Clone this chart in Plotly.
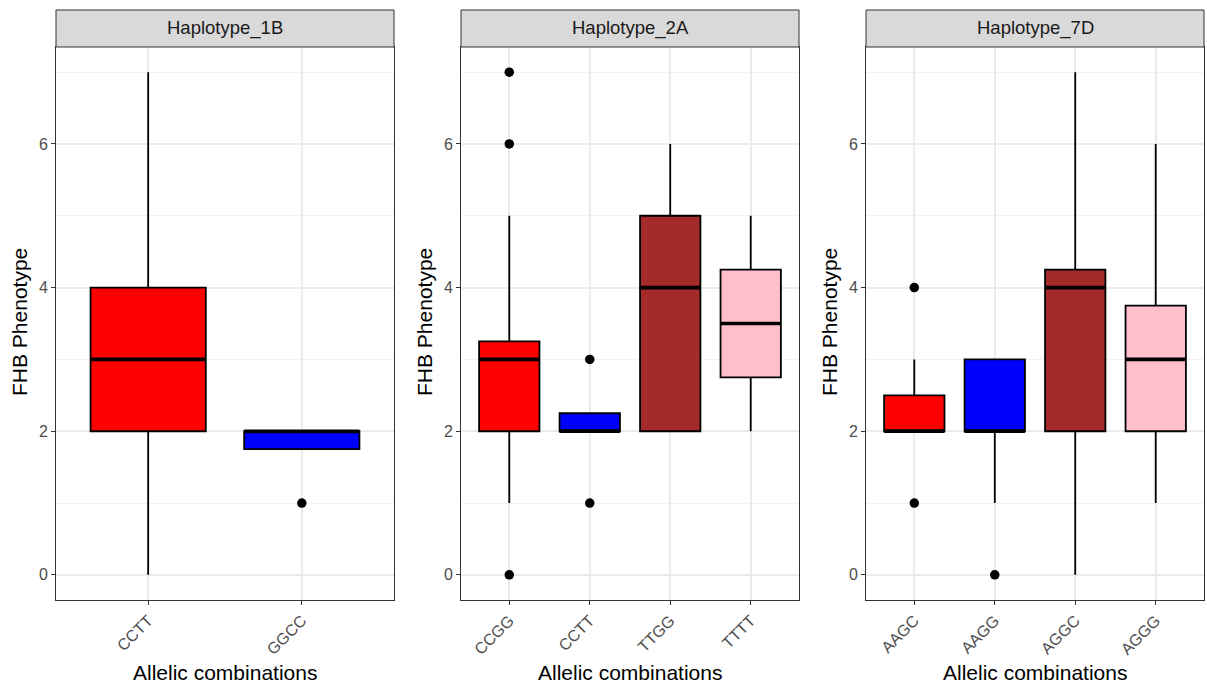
import plotly.graph_objects as go

W, H = 1207, 684

# ---------------- data ----------------
panels = ["Haplotype_1B", "Haplotype_2A", "Haplotype_7D"]

cats_1B = ["CCTT", "GGCC"]
lower_1B = [0, 1.75]
q1_1B = [2, 1.75]
med_1B = [3, 2]
q3_1B = [4, 2]
upper_1B = [7, 2]
out_1B = [[], [1]]
col_1B = ["#FF0000", "#0000FF"]

cats_2A = ["CCGG", "CCTT", "TTGG", "TTTT"]
lower_2A = [1, 2, 2, 2]
q1_2A = [2, 2, 2, 2.75]
med_2A = [3, 2, 4, 3.5]
q3_2A = [3.25, 2.25, 5, 4.25]
upper_2A = [5, 2.25, 6, 5]
out_2A = [[0, 6, 7], [1, 3], [], []]
col_2A = ["#FF0000", "#0000FF", "#A52A2A", "#FFC0CB"]

cats_7D = ["AAGC", "AAGG", "AGGC", "AGGG"]
lower_7D = [2, 1, 0, 1]
q1_7D = [2, 2, 2, 2]
med_7D = [2, 2, 4, 3]
q3_7D = [2.5, 3, 4.25, 3.75]
upper_7D = [3, 3, 7, 6]
out_7D = [[1, 4], [0], [], []]
col_7D = ["#FF0000", "#0000FF", "#A52A2A", "#FFC0CB"]

y_ticks = [0, 2, 4, 6]
x_title = "Allelic combinations"
y_title = "FHB Phenotype"

# ---------------- layout geometry ----------------
panel_px = [(56, 394), (461, 799), (866, 1204)]
plot_top_px, plot_bot_px = 47, 600
strip_top_px = 10
ydom = [1 - plot_bot_px / H, 1 - plot_top_px / H]
BOX_W = 0.75
FONT = "Liberation Sans, Arial, Helvetica, sans-serif"

data_sets = [
    (cats_1B, lower_1B, q1_1B, med_1B, q3_1B, upper_1B, out_1B, col_1B),
    (cats_2A, lower_2A, q1_2A, med_2A, q3_2A, upper_2A, out_2A, col_2A),
    (cats_7D, lower_7D, q1_7D, med_7D, q3_7D, upper_7D, out_7D, col_7D),
]

fig = go.Figure()
shapes = []
annotations = []

for p, (name, ds, (x0, x1)) in enumerate(zip(panels, data_sets, panel_px)):
    cats, lo, q1, md, q3, up, outs, cols = ds
    sfx = "" if p == 0 else str(p + 1)
    xa, ya = "x" + sfx, "y" + sfx
    pos = list(range(1, len(cats) + 1))
    for i, c in enumerate(cats):
        fig.add_trace(go.Box(
            x=[pos[i]], q1=[q1[i]], median=[md[i]], q3=[q3[i]],
            lowerfence=[lo[i]], upperfence=[up[i]],
            width=BOX_W, whiskerwidth=0, boxpoints=False,
            fillcolor=cols[i], line=dict(color="black", width=1.8),
            xaxis=xa, yaxis=ya, showlegend=False, hoverinfo="skip",
        ))
        # thick median line
        fig.add_trace(go.Scatter(
            x=[pos[i] - BOX_W / 2, pos[i] + BOX_W / 2], y=[md[i], md[i]],
            mode="lines", line=dict(color="black", width=3.6),
            xaxis=xa, yaxis=ya, showlegend=False, hoverinfo="skip",
        ))
        if outs[i]:
            fig.add_trace(go.Scatter(
                x=[pos[i]] * len(outs[i]), y=outs[i], mode="markers",
                marker=dict(color="black", size=9.5),
                xaxis=xa, yaxis=ya, showlegend=False, hoverinfo="skip",
            ))
    dom = [x0 / W, x1 / W]
    xaxis = dict(
        domain=dom, anchor=ya, range=[0.4, len(cats) + 0.6],
        tickvals=pos, ticktext=cats, tickangle=-45,
        tickfont=dict(family=FONT, size=16, color="#4D4D4D"),
        ticks="outside", ticklen=4, tickwidth=1.2, tickcolor="#333333",
        showgrid=True, gridcolor="#EBEBEB", gridwidth=1.5,
        showline=True, mirror=True, linecolor="#333333", linewidth=1,
        zeroline=False, fixedrange=True,
    )
    yaxis = dict(
        domain=ydom, anchor=xa, range=[-0.35, 7.35],
        tickvals=y_ticks, ticktext=[str(v) for v in y_ticks],
        tickfont=dict(family=FONT, size=16, color="#4D4D4D"),
        ticks="outside", ticklen=4, tickwidth=1.2, tickcolor="#333333",
        showgrid=True, gridcolor="#EBEBEB", gridwidth=1.5,
        minor=dict(tickvals=[1, 3, 5, 7], showgrid=True, gridcolor="#F3F3F3", gridwidth=0.8, ticks=""),
        showline=True, mirror=True, linecolor="#333333", linewidth=1,
        zeroline=False, fixedrange=True,
    )
    fig.update_layout({"xaxis" + sfx: xaxis, "yaxis" + sfx: yaxis})

    # strip
    shapes.append(dict(
        type="rect", xref="paper", yref="paper",
        x0=x0 / W, x1=x1 / W, y0=1 - plot_top_px / H, y1=1 - strip_top_px / H,
        fillcolor="#D9D9D9", line=dict(color="#333333", width=1), layer="above",
    ))
    annotations.append(dict(
        text=name, xref="paper", yref="paper",
        x=(x0 + x1) / 2 / W, y=1 - (plot_top_px + strip_top_px) / 2 / H,
        showarrow=False, xanchor="center", yanchor="middle",
        font=dict(family=FONT, size=18.5, color="#1A1A1A"),
    ))
    # axis titles
    annotations.append(dict(
        text=x_title, xref="paper", yref="paper",
        x=(x0 + x1) / 2 / W, y=1 - 672 / H,
        showarrow=False, xanchor="center", yanchor="middle",
        font=dict(family=FONT, size=21, color="black"),
    ))
    annotations.append(dict(
        text=y_title, xref="paper", yref="paper",
        x=(x0 - 37) / W, y=1 - 322 / H, textangle=-90,
        showarrow=False, xanchor="center", yanchor="middle",
        font=dict(family=FONT, size=21, color="black"),
    ))

fig.update_layout(
    width=W, height=H,
    margin=dict(l=0, r=0, t=0, b=0),
    paper_bgcolor="white", plot_bgcolor="white",
    shapes=shapes, annotations=annotations,
    showlegend=False,
)

fig.write_html("out.html")
